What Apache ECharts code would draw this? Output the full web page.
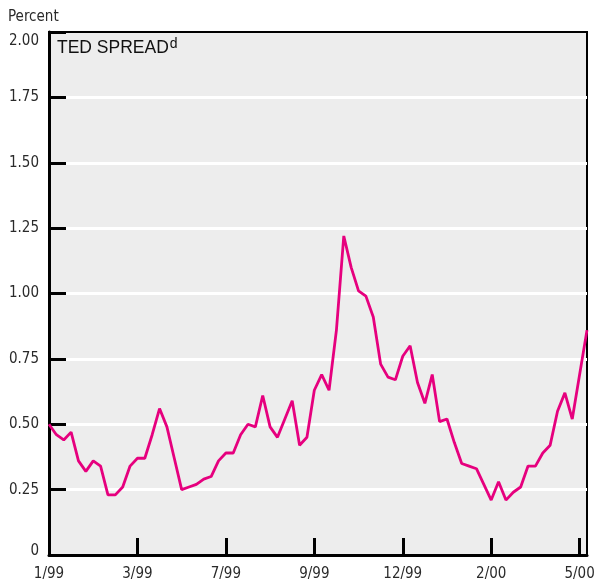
<!DOCTYPE html>
<html>
<head>
<meta charset="utf-8">
<script src="https://cdn.jsdelivr.net/npm/echarts@6/dist/echarts.min.js"></script>
<style>
    html, body { margin: 0; padding: 0; background: #ffffff; overflow: hidden; }
    #chart { width: 594px; height: 581px; }
</style>
</head>
<body>
<div id="chart"></div>
<script>
// weekly TED spread, percent (1/99 .. 5/00)
var spread = [
    0.50, 0.46, 0.44, 0.47, 0.36, 0.32, 0.36, 0.34, 0.23, 0.23, 0.26, 0.34,
    0.37, 0.37, 0.46, 0.56, 0.49, 0.37, 0.25, 0.26, 0.27, 0.29, 0.30, 0.36,
    0.39, 0.39, 0.46, 0.50, 0.49, 0.61, 0.49, 0.45, 0.52, 0.59, 0.42, 0.45,
    0.63, 0.69, 0.63, 0.86, 1.22, 1.10, 1.01, 0.99, 0.91, 0.73, 0.68, 0.67,
    0.76, 0.80, 0.66, 0.58, 0.69, 0.51, 0.52, 0.43, 0.35, 0.34, 0.33, 0.27,
    0.21, 0.28, 0.21, 0.24, 0.26, 0.34, 0.34, 0.39, 0.42, 0.55, 0.62, 0.52,
    0.69, 0.86
];
// one x label every 12 weeks
var tickLabels = ['1/99', '3/99', '7/99', '9/99', '12/99', '2/00', '5/00'];
var tickStep = 12;

var weeks = spread.map(function (v, i) { return String(i); });

var narrow = "'Liberation Sans Narrow', 'DejaVu Sans Condensed', sans-serif";
var labelColor = '#2a2a2a';

var chart = echarts.init(document.getElementById('chart'));
chart.setOption({
    animation: false,
    backgroundColor: '#ffffff',
    title: [{
        text: 'Percent',
        left: 8,
        top: 10,
        padding: 0,
        textStyle: { fontFamily: narrow, fontSize: 15, fontWeight: 'normal', color: labelColor }
    }, {
        text: 'TED SPREAD{sup|d}',
        left: 57,
        top: 37,
        padding: 0,
        textStyle: {
            fontFamily: "'Liberation Sans', Arial, sans-serif",
            fontSize: 17.5,
            fontWeight: 'normal',
            color: '#111',
            rich: {
                sup: {
                    fontFamily: "'Liberation Sans', Arial, sans-serif",
                    fontSize: 14,
                    color: '#111',
                    verticalAlign: 'top',
                    padding: [0, 0, 9, 1]
                }
            }
        }
    }],
    grid: {
        left: 49,
        right: 7,
        top: 32,
        bottom: 26,
        outerBoundsMode: 'none',
        show: true,
        backgroundColor: '#ededed',
        borderColor: '#000',
        borderWidth: 2
    },
    xAxis: {
        type: 'category',
        data: weeks,
        boundaryGap: false,
        axisLine: { lineStyle: { color: '#000', width: 3 } },
        axisTick: {
            inside: true,
            length: 17,
            interval: function (i) { return i % tickStep === 0; },
            lineStyle: { color: '#000', width: 3 }
        },
        axisLabel: {
            interval: function (i) { return i % tickStep === 0; },
            formatter: function (v, i) { return tickLabels[i / tickStep] || ''; },
            fontFamily: narrow,
            fontSize: 15,
            color: labelColor,
            margin: 12
        },
        splitLine: { show: false }
    },
    yAxis: {
        type: 'value',
        min: 0,
        max: 2,
        interval: 0.25,
        axisLine: { show: true, lineStyle: { color: '#000', width: 3 } },
        axisTick: { show: true, inside: true, length: 17, lineStyle: { color: '#000', width: 3 } },
        axisLabel: {
            // top label sits a bit lower, bottom one a bit higher
            formatter: function (v) {
                if (v === 0) return '{bot|0}';
                if (v === 2) return '{top|2.00}';
                return v.toFixed(2);
            },
            rich: {
                top: { fontFamily: narrow, fontSize: 15, color: labelColor, padding: [18, 0, 0, 0] },
                bot: { fontFamily: narrow, fontSize: 15, color: labelColor, padding: [0, 0, 8, 0] }
            },
            fontFamily: narrow,
            fontSize: 15,
            color: labelColor,
            margin: 10
        },
        splitLine: {
            show: true,
            showMinLine: false,
            showMaxLine: false,
            lineStyle: { color: '#ffffff', width: 3 }
        }
    },
    series: [{
        type: 'line',
        data: spread,
        symbol: 'none',
        lineStyle: { color: '#e6007e', width: 2.8 },
        z: 3
    }]
});
</script>
</body>
</html>
